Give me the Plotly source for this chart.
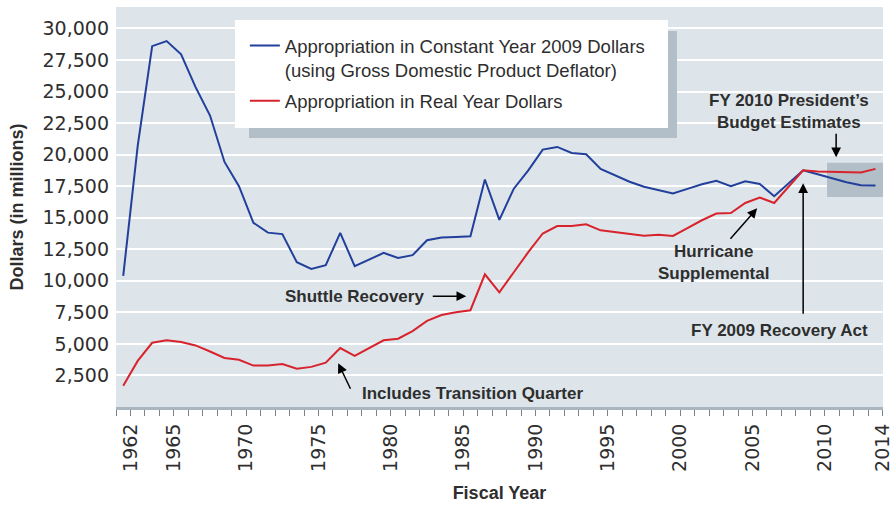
import plotly.graph_objects as go

years = list(range(1962, 2015))

constant_2009 = [
    10400, 20700, 28600, 29000, 27950, 25350, 23100, 19420, 17500, 14600,
    13820, 13700, 11470, 10940, 11240, 13800, 11160, 11690, 12210, 11810,
    12030, 13220, 13430, 13480, 13530, 18030, 14830, 17300, 18750, 20400,
    20610, 20130, 20030, 18860, 18380, 17850, 17450, 17180, 16920, 17290,
    17650, 17920, 17500, 17890, 17680, 16700, 17730, 18760, 18450, 18130,
    17810, 17575, 17550,
]

real_year = [
    1690, 3650, 5090, 5290, 5150, 4880, 4400, 3890, 3740, 3280,
    3280, 3400, 3040, 3180, 3510, 4670, 4050, 4660, 5290, 5410,
    6020, 6820, 7290, 7510, 7670, 10520, 9090, 10680, 12270, 13750,
    14340, 14340, 14480, 14000, 13870, 13720, 13580, 13650, 13560, 14170,
    14800, 15330, 15370, 16170, 16600, 16170, 17460, 18760, 18660, 18630,
    18600, 18580, 18870,
]

x_tick_labels = [1962, 1965, 1970, 1975, 1980, 1985, 1990, 1995, 2000, 2005, 2010, 2014]
y_tick_values = [2500, 5000, 7500, 10000, 12500, 15000, 17500, 20000, 22500, 25000, 27500, 30000]

series_names = [
    "Appropriation in Constant Year 2009 Dollars<br>(using Gross Domestic Product Deflator)",
    "Appropriation in Real Year Dollars",
]

BLUE = "#213f9b"
RED = "#d8232c"
TEXT = "#2e2e2e"
BOLD = "Liberation Sans, Arial, sans-serif"

fig = go.Figure()
fig.add_trace(go.Scatter(x=years, y=constant_2009, mode="lines", name=series_names[0],
                         line=dict(color=BLUE, width=2), legendgroup="a"))
fig.add_trace(go.Scatter(x=years, y=real_year, mode="lines", name=series_names[1],
                         line=dict(color=RED, width=2), legendgroup="b"))

# shaded budget-estimate region
fig.add_shape(type="rect", xref="x", yref="y", x0=2010.65, x1=2014.52, y0=16650, y1=19350,
              fillcolor="#b2bfc8", line=dict(width=0), layer="between")

# legend box + shadow
fig.add_shape(type="rect", xref="paper", yref="paper", x0=0.1734, x1=0.7314, y0=0.6725, y1=0.94,
              fillcolor="#b2bfc8", line=dict(width=0), layer="above")
fig.add_shape(type="rect", xref="paper", yref="paper", x0=0.1551, x1=0.7197, y0=0.6975, y1=0.9675,
              fillcolor="white", line=dict(width=0), layer="above")

ann_font = dict(family=BOLD, size=17, color=TEXT, weight="bold")
texts = [
    ("FY 2010 President’s<br>Budget Estimates", 2008.03, 23400),
    ("Hurricane<br>Supplemental", 2002.78, 11470),
    ("FY 2009 Recovery Act", 2007.34, 6030),
    ("Shuttle Recovery", 1978.0, 8780),
    ("Includes Transition Quarter", 1986.12, 1070),
]
for t, x, y in texts:
    fig.add_annotation(x=x, y=y, text=t, showarrow=False, font=ann_font,
                       xanchor="center", yanchor="middle")

arrows = [
    (2011.28, 19790, 0, -25),
    (2005.82, 15750, -28, 32),
    (2009.0, 17730, 0, 132),
    (1985.71, 8780, -35, 0),
    (1976.86, 3470, 13, 27),
]
for x, y, ax, ay in arrows:
    fig.add_annotation(x=x, y=y, ax=ax, ay=ay, text="", showarrow=True,
                       arrowhead=2, arrowsize=1.3, arrowwidth=1.5, arrowcolor="black")

fig.update_layout(
    template="none",
    width=893, height=505,
    margin=dict(l=116, r=10, t=7, b=98),
    paper_bgcolor="white",
    plot_bgcolor="#dde5ea",
    showlegend=True,
    legend=dict(x=0.168, y=0.95, xanchor="left", yanchor="top",
                bgcolor="rgba(0,0,0,0)", borderwidth=0,
                font=dict(family="Liberation Sans, Arial, sans-serif", size=18.5, color=TEXT),
                valign="top", tracegroupgap=4, itemclick=False),
    font=dict(family="Liberation Sans, Arial, sans-serif", color=TEXT),
)

fig.update_xaxes(
    range=[1961.5, 2014.52],
    tickmode="array",
    tickvals=[v + 0.5 for v in x_tick_labels],
    ticktext=[str(v) for v in x_tick_labels],
    tickangle=-90,
    tickfont=dict(family="DejaVu Sans", size=19, color=TEXT),
    ticks="outside", ticklen=6, tickcolor="#7a8288", tickwidth=1,
    minor=dict(ticks="outside", ticklen=6, tickcolor="#7a8288", tickwidth=1,
               tickmode="linear", tick0=1961.5, dtick=1, showgrid=False),
    showgrid=False, zeroline=False,
    showline=True, linecolor="#a9b6bf", linewidth=3,
    title=dict(text="<b>Fiscal Year</b>", font=dict(family=BOLD, size=18, color=TEXT), standoff=16),
    automargin=False,
)

fig.update_yaxes(
    range=[0, 31700],
    tickmode="array",
    tickvals=y_tick_values,
    tickformat=",",
    tickfont=dict(family="DejaVu Sans", size=19, color=TEXT),
    ticks="",
    ticklabelstandoff=6,
    showgrid=True, gridcolor="white", gridwidth=1.5,
    zeroline=False, showline=False,
    title=dict(text="<b>Dollars (in millions)</b>", font=dict(family=BOLD, size=18, color=TEXT), standoff=14),
    automargin=False,
)

fig.write_html("out.html", config={"displayModeBar": False},
               post_script="document.body.style.margin='0';")
